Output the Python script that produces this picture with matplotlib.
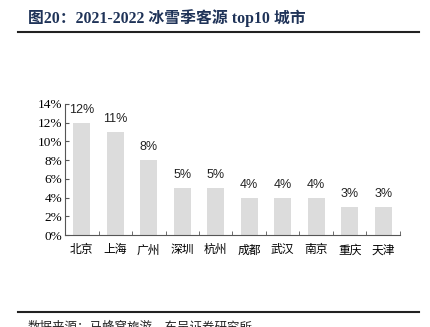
import matplotlib.pyplot as plt
from matplotlib.ticker import FixedLocator, FuncFormatter

cities = ['北京', '上海', '广州', '深圳', '杭州', '成都', '武汉', '南京', '重庆', '天津']
share = [12, 11, 8, 5, 5, 4, 4, 4, 3, 3]  # %
y_ticks = [0, 2, 4, 6, 8, 10, 12, 14]

title = '图20：2021-2022 冰雪季客源 top10 城市'
source = '数据来源：马蜂窝旅游，东吴证券研究所'

cjk = ['Noto Sans CJK SC', 'DejaVu Sans']
serif = ['Liberation Serif', 'Noto Sans CJK SC']

fig = plt.figure(figsize=(4.31, 3.27), dpi=100)
ax = fig.add_axes([65 / 431, 92 / 327, 335 / 431, 131 / 327])

x = list(range(len(cities)))
bars = ax.bar(x, share, width=0.5, color='#dcdcdc', zorder=2)
for xi, v in zip(x, share):
    ax.annotate(f'{v}%', (xi, v), xytext=(0, 5), textcoords='offset points',
                ha='center', va='bottom', fontsize=9, family='Liberation Sans',
                color='#222222')

ax.set_xlim(-0.5, len(cities) - 0.5)
ax.set_ylim(0, 14)
ax.set_yticks(y_ticks)
ax.yaxis.set_major_formatter(FuncFormatter(lambda v, p: f'{v:.0f}%'))
for lab in ax.get_yticklabels():
    lab.set_family('Liberation Serif')
    lab.set_fontsize(9.5)

ax.set_xticks(x)
ax.set_xticklabels(cities, family=cjk, fontsize=8.5)
ax.tick_params(axis='x', which='major', length=0, pad=6)
ax.xaxis.set_minor_locator(FixedLocator([i + 0.5 for i in x]))
ax.tick_params(axis='x', which='minor', direction='in', length=3, color='#555555')
ax.tick_params(axis='y', direction='in', length=3, pad=2, color='#555555')

for side in ['top', 'right']:
    ax.spines[side].set_visible(False)
for side in ['left', 'bottom']:
    ax.spines[side].set_color('#555555')
    ax.spines[side].set_linewidth(0.8)

# header and footer
fig.text(28 / 431, 1 - 18 / 327, title, family=serif, fontweight='bold',
         fontsize=11.4, color='#1f3358', va='center', ha='left')
fig.add_artist(plt.Line2D([18 / 431, 419 / 431], [1 - 32 / 327] * 2,
                          color='#222222', linewidth=1.5))
fig.add_artist(plt.Line2D([18 / 431, 419 / 431], [1 - 312 / 327] * 2,
                          color='#222222', linewidth=1.5))
fig.text(28 / 431, 1 - 321 / 327, source, family=cjk, fontsize=9,
         color='#222222', va='top', ha='left')

fig.savefig('out.png', dpi=100)
